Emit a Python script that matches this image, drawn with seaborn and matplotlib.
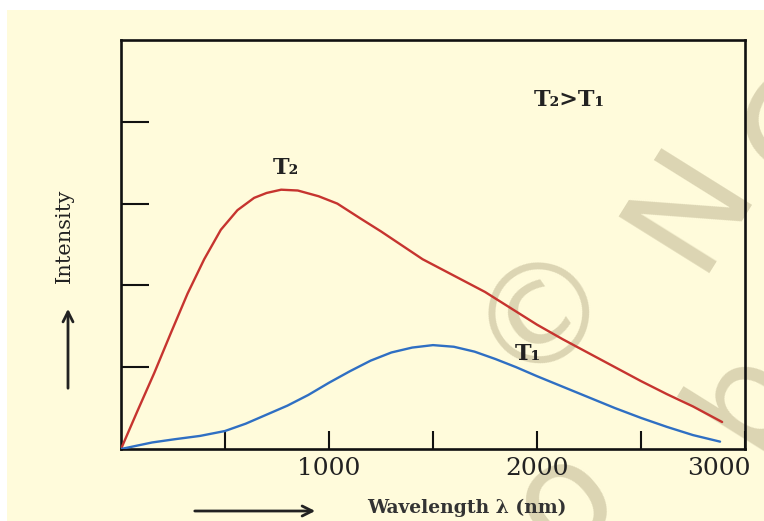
import matplotlib
matplotlib.use("Agg")
import matplotlib.pyplot as plt
import matplotlib.transforms as mtransforms
from matplotlib.patches import Rectangle
import seaborn as sns

# Planck-style curves (wavelength in nm, intensity in arbitrary units)
wavelength_t2 = [0, 80, 160, 240, 320, 400, 480, 560, 640, 700, 770, 850, 950,
                 1040, 1150, 1250, 1350, 1450, 1600, 1750, 1875, 2000, 2125, 2250,
                 2375, 2500, 2625, 2750, 2890]
intensity_t2 = [0, 0.47, 0.93, 1.42, 1.90, 2.32, 2.68, 2.92, 3.07, 3.13, 3.17, 3.16, 3.09,
                3.00, 2.82, 2.66, 2.49, 2.32, 2.12, 1.92, 1.72, 1.52, 1.34, 1.17,
                1.00, 0.83, 0.67, 0.52, 0.33]

wavelength_t1 = [0, 150, 260, 380, 500, 600, 700, 800, 900, 1000, 1100, 1200, 1300,
                 1400, 1500, 1600, 1700, 1800, 1900, 2000, 2125, 2250, 2375, 2500,
                 2625, 2750, 2880]
intensity_t1 = [0, 0.08, 0.12, 0.16, 0.22, 0.31, 0.42, 0.53, 0.66, 0.81, 0.95, 1.08, 1.18,
                1.24, 1.27, 1.25, 1.19, 1.10, 1.00, 0.89, 0.76, 0.63, 0.50, 0.38,
                0.27, 0.17, 0.09]

x_ticks = [500, 1000, 1500, 2000, 2500, 3000]
x_tick_labels = ["", "1000", "", "2000", "", "3000"]
y_ticks = [1, 2, 3, 4]

cream = "#fffbdb"
red = "#c6342f"
blue = "#2f6fc3"
mark = "#dcd5b3"

sns.set_style("ticks")
plt.rcParams["font.family"] = ["DejaVu Serif"]

W, H = 764, 521
fig = plt.figure(figsize=(W / 100, H / 100), dpi=100, facecolor="white")


def px(x, y):
    return x / W, 1 - y / H


# cream panel (thin white strip at top/left in the reference)
fig.patches.append(Rectangle((7 / W, 0), 1, (H - 10) / H, transform=fig.transFigure,
                             facecolor=cream, edgecolor="none", zorder=-2))

# faint watermark glyphs
wm = dict(transform=fig.transFigure, color=mark, ha="center", va="center",
          family="DejaVu Sans", zorder=-1)
fig.text(*px(543, 312), "\u00a9", fontsize=100, rotation=35, **wm)
fig.text(*px(690, 205), "N", fontsize=105, rotation=58, **wm)
fig.text(*px(805, 130), "C", fontsize=105, rotation=58, **wm)
fig.text(*px(565, 500), "o", fontsize=105, rotation=40, **wm)
fig.text(*px(745, 395), "b", fontsize=100, rotation=58, **wm)

ax = fig.add_axes([121 / W, (H - 449) / H, (745 - 121) / W, (449 - 40) / H])
ax.set_facecolor("none")
ax.set_zorder(2)

sns.lineplot(x=wavelength_t2, y=intensity_t2, ax=ax, color=red, lw=1.7, sort=False, zorder=3)
sns.lineplot(x=wavelength_t1, y=intensity_t1, ax=ax, color=blue, lw=1.7, sort=False, zorder=3)
for line in ax.lines:
    line.set_solid_joinstyle("round")
    line.set_solid_capstyle("round")

ax.set_xlim(0, 3000)
ax.set_ylim(0, 5)
ax.set_xticks(x_ticks)
ax.set_xticklabels(x_tick_labels, fontsize=18, color="#222222")
ax.set_yticks(y_ticks)
ax.set_yticklabels([])
ax.tick_params(axis="x", direction="in", length=13, width=1.5, pad=6, color="#111111")
ax.tick_params(axis="y", direction="in", length=20, width=1.5, color="#111111")
for s in ax.spines.values():
    s.set_visible(True)
    s.set_linewidth(1.9)
    s.set_color("#111111")

# nudge the 3000 label left like in the reference
lbl = ax.get_xticklabels()[-1]
lbl.set_transform(lbl.get_transform() + mtransforms.ScaledTranslation(-26 / 100, 0, fig.dpi_scale_trans))

ax.text(791, 3.44, "T\u2082", fontsize=16, ha="center", va="center", color="#222222", weight="bold")
ax.text(1958, 1.16, "T\u2081", fontsize=16, ha="center", va="center", color="#222222", weight="bold")
ax.text(2156, 4.27, "T\u2082>T\u2081", fontsize=16, ha="center", va="center", color="#222222", weight="bold")

# axis titles with arrows, as in the textbook figure
fig.text(*px(64, 236), "Intensity", rotation=90, fontsize=15, ha="center", va="center", color="#222222")
ax.annotate("", xy=px(68, 306), xytext=px(68, 391), xycoords="figure fraction",
            arrowprops=dict(arrowstyle="->", lw=2, color="#222222", mutation_scale=18))
fig.text(*px(467, 508), "Wavelength \u03bb (nm)", fontsize=13.5, ha="center", va="center",
         color="#333333", weight="bold")
ax.annotate("", xy=px(318, 511), xytext=px(192, 511), xycoords="figure fraction",
            arrowprops=dict(arrowstyle="->", lw=2, color="#222222", mutation_scale=18))

fig.savefig("out.png", dpi=100, facecolor=fig.get_facecolor())
